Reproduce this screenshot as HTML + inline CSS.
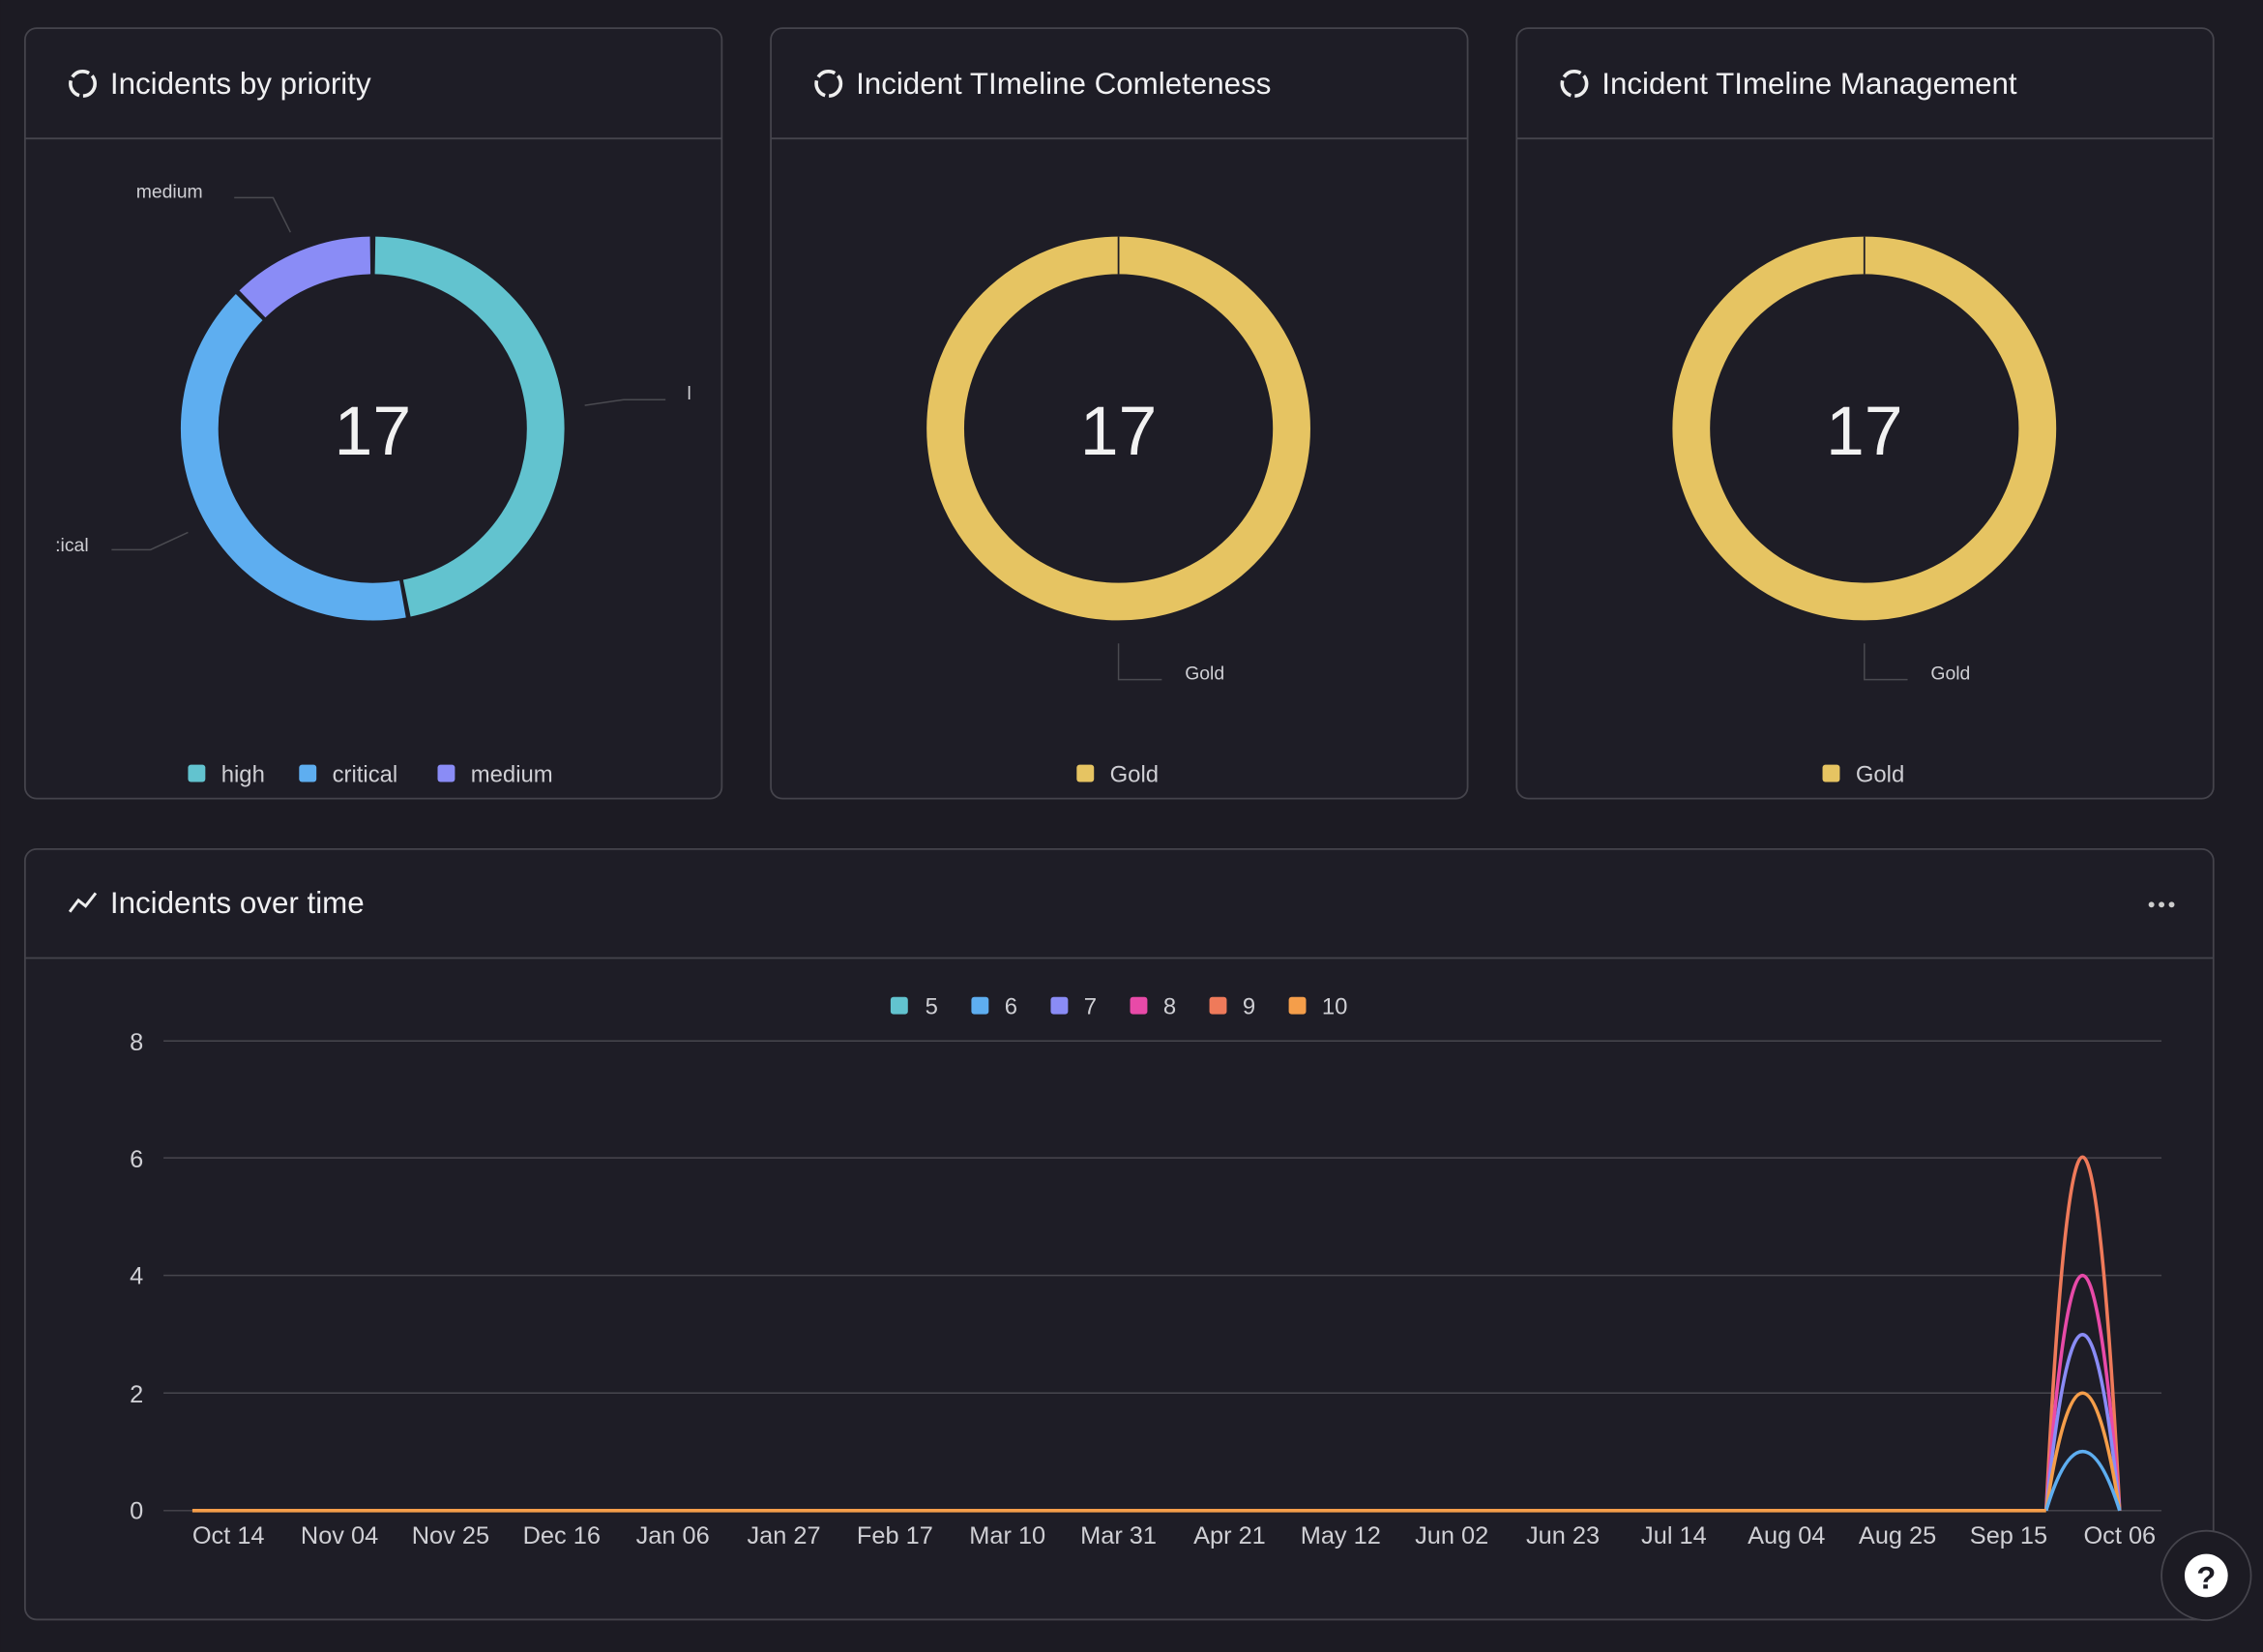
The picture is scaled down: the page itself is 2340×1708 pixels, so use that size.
<!DOCTYPE html>
<html><head><meta charset="utf-8"><style>
html,body{margin:0;padding:0;background:#1c1b23;}
svg{display:block}
text{font-family:"Liberation Sans",sans-serif;}
</style></head><body>
<svg width="2340" height="1708" viewBox="0 0 1568 1145" xmlns="http://www.w3.org/2000/svg">
<rect width="1568" height="1145" fill="#1c1b23"/>
<g fill="#1e1d26" stroke="#45444c" stroke-width="1.2">
<rect x="17" y="19.5" width="483" height="534" rx="8"/>
<rect x="534" y="19.5" width="483" height="534" rx="8"/>
<rect x="1051" y="19.5" width="483" height="534" rx="8"/>
<rect x="17" y="588.5" width="1517" height="534" rx="8"/>
</g>
<g stroke="#45444c" stroke-width="1.2">
<line x1="17" y1="96" x2="500" y2="96"/><line x1="534" y1="96" x2="1017" y2="96"/><line x1="1051" y1="96" x2="1534" y2="96"/><line x1="17" y1="664" x2="1534" y2="664"/>
</g>
<g fill="none" stroke="#eee" stroke-width="2.4" stroke-dasharray="13 2.7">
<circle cx="57" cy="58" r="8.5"/><circle cx="574" cy="58" r="8.5"/><circle cx="1091" cy="58" r="8.5"/>
</g>
<polyline points="48,632 54,624 59,628 66,619" fill="none" stroke="#eee" stroke-width="2"/>
<g fill="#f0f0f2" font-size="21">
<text x="76" y="65">Incidents by priority</text>
<text x="593" y="65">Incident TImeline Comleteness</text>
<text x="1110" y="65">Incident TImeline Management</text>
<text x="76" y="633">Incidents over time</text>
</g>
<g fill="#ccc"><circle cx="1491" cy="627" r="2"/><circle cx="1498" cy="627" r="2"/><circle cx="1505" cy="627" r="2"/></g>
<g fill="none" stroke-width="26">
<path d="M259.7,177 A120,120 0 0 1 281.7,414.6" stroke="#62c3cf"/>
<path d="M278.8,415.2 A120,120 0 0 1 172.4,212.9" stroke="#5eaef0"/>
<path d="M174.6,210.7 A120,120 0 0 1 256.3,177" stroke="#8a8cf6"/>
</g>
<g fill="none" stroke="#4a4a50" stroke-width="1">
<polyline points="162,137 189,137 201,161"/>
<polyline points="405,281 432,277 461,277"/>
<polyline points="77,381 104,381 130,369"/>
<polyline points="775,446 775,471 805,471"/>
<polyline points="1292,446 1292,471 1322,471"/>
</g>
<g fill="#cfcfd4" font-size="13">
<text x="94" y="137">medium</text><text x="476" y="277">l</text><text x="38" y="382">:ical</text>
<text x="821" y="471">Gold</text><text x="1338" y="471">Gold</text>
</g>
<g fill="#f2f2f2" font-size="48" text-anchor="middle">
<text x="258" y="315">17</text><text x="775" y="315">17</text><text x="1292" y="315">17</text>
</g>
<g fill="none" stroke="#e6c462" stroke-width="26">
<circle cx="775" cy="297" r="120"/><circle cx="1292" cy="297" r="120"/>
</g>
<g stroke="#1e1d26" stroke-width="1.2"><line x1="775" y1="164" x2="775" y2="190"/><line x1="1292" y1="164" x2="1292" y2="190"/></g>
<g font-size="16" fill="#cfcfd4">
<rect x="130" y="530" width="12" height="12" rx="2" fill="#62c3cf"/><text x="153" y="542">high</text>
<rect x="207" y="530" width="12" height="12" rx="2" fill="#5eaef0"/><text x="230" y="542">critical</text>
<rect x="303" y="530" width="12" height="12" rx="2" fill="#8a8cf6"/><text x="326" y="542">medium</text>
<rect x="746" y="530" width="12" height="12" rx="2" fill="#e6c462"/><text x="769" y="542">Gold</text>
<rect x="1263" y="530" width="12" height="12" rx="2" fill="#e6c462"/><text x="1286" y="542">Gold</text>
</g>
<g font-size="16" fill="#cfcfd4">
<rect x="617" y="691" width="12" height="12" rx="2" fill="#62c3cf"/><text x="641" y="703">5</text>
<rect x="673" y="691" width="12" height="12" rx="2" fill="#5eaef0"/><text x="696" y="703">6</text>
<rect x="728" y="691" width="12" height="12" rx="2" fill="#8a8cf6"/><text x="751" y="703">7</text>
<rect x="783" y="691" width="12" height="12" rx="2" fill="#e84aa8"/><text x="806" y="703">8</text>
<rect x="838" y="691" width="12" height="12" rx="2" fill="#ef7a5a"/><text x="861" y="703">9</text>
<rect x="893" y="691" width="12" height="12" rx="2" fill="#f59e4a"/><text x="916" y="703">10</text>
</g>
<g stroke="#47464e" stroke-width="1">
<line x1="113" y1="721.5" x2="1498" y2="721.5"/><line x1="113" y1="802.5" x2="1498" y2="802.5"/><line x1="113" y1="884" x2="1498" y2="884"/><line x1="113" y1="965.5" x2="1498" y2="965.5"/><line x1="113" y1="1047" x2="1498" y2="1047"/>
</g>
<g font-size="17" fill="#cfcfd4" text-anchor="end">
<text x="99" y="728">8</text><text x="99" y="809">6</text><text x="99" y="890">4</text><text x="99" y="972">2</text><text x="99" y="1053">0</text>
</g>
<g font-size="17" fill="#cfcfd4" text-anchor="middle">
<text x="158" y="1070">Oct 14</text><text x="235" y="1070">Nov 04</text><text x="312" y="1070">Nov 25</text><text x="389" y="1070">Dec 16</text><text x="466" y="1070">Jan 06</text><text x="543" y="1070">Jan 27</text><text x="620" y="1070">Feb 17</text><text x="698" y="1070">Mar 10</text><text x="775" y="1070">Mar 31</text><text x="852" y="1070">Apr 21</text><text x="929" y="1070">May 12</text><text x="1006" y="1070">Jun 02</text><text x="1083" y="1070">Jun 23</text><text x="1160" y="1070">Jul 14</text><text x="1238" y="1070">Aug 04</text><text x="1315" y="1070">Aug 25</text><text x="1392" y="1070">Sep 15</text><text x="1469" y="1070">Oct 06</text>
</g>
<g fill="none" stroke-width="2.4">
<path d="M1418,1047 Q1443,557 1469,1047" stroke="#ef7a5a"/>
<path d="M1418,1047 Q1443,721 1469,1047" stroke="#e84aa8"/>
<path d="M1418,1047 Q1443,803 1469,1047" stroke="#8a8cf6"/>
<path d="M1418,1047 Q1443,884 1469,1047" stroke="#f59e4a"/>
<path d="M1418,1047 Q1443,965 1469,1047" stroke="#5eaef0"/>
<line x1="133" y1="1047" x2="1418" y2="1047" stroke="#f59e4a"/>
</g>
<circle cx="1529" cy="1092" r="31" fill="#1c1b23" stroke="#45444c" stroke-width="1.2"/>
<circle cx="1529" cy="1092" r="15" fill="#fff"/>
<text x="1529" y="1101" font-size="22" font-weight="bold" fill="#1c1b23" text-anchor="middle">?</text>
</svg>
</body></html>
